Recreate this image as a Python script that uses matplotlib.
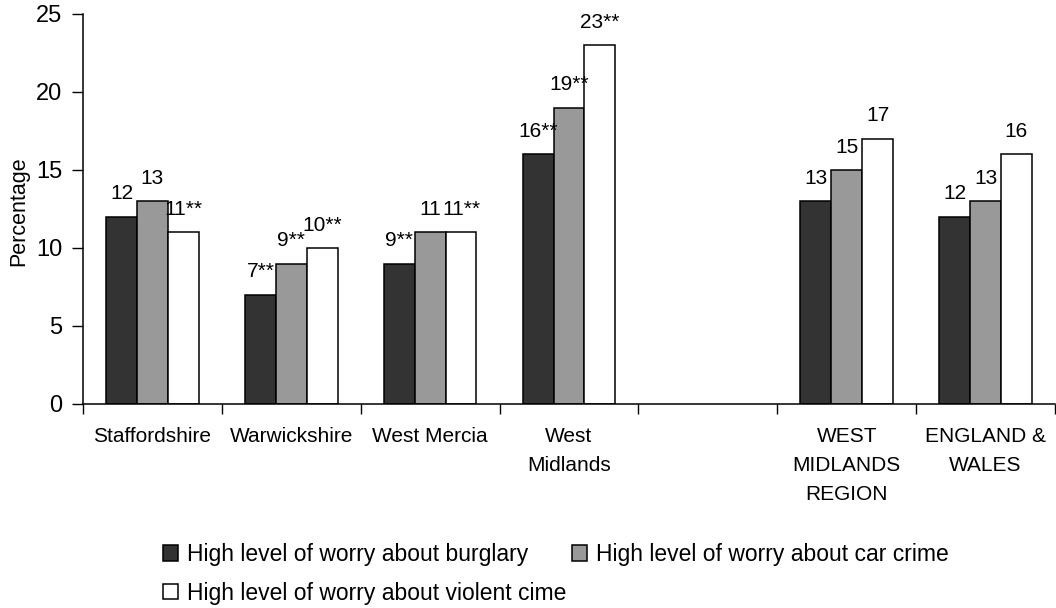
import matplotlib
matplotlib.use("Agg")
import matplotlib.pyplot as plt
import numpy as np

categories = ["Staffordshire", "Warwickshire", "West Mercia", "West\nMidlands", "",
              "WEST\nMIDLANDS\nREGION", "ENGLAND &\nWALES"]
burglary = [12, 7, 9, 16, None, 13, 12]
car_crime = [13, 9, 11, 19, None, 15, 13]
violent = [11, 10, 11, 23, None, 17, 16]
burglary_labels = ["12", "7**", "9**", "16**", "", "13", "12"]
car_labels = ["13", "9**", "11", "19**", "", "15", "13"]
violent_labels = ["11**", "10**", "11**", "23**", "", "17", "16"]
series_names = ["High level of worry about burglary",
                "High level of worry about car crime",
                "High level of worry about violent cime"]
colors = ["#333333", "#999999", "#ffffff"]

plt.rcParams['font.family'] = ['Liberation Sans', 'DejaVu Sans']

fig = plt.figure(figsize=(10.56, 6.08), dpi=100)
ax = fig.add_axes([83/1056, 1 - 404/608, 972/1056, 390/608])

n = len(categories)
x = np.arange(n)
w = 0.222
handles = []
for k, (vals, labs) in enumerate([(burglary, burglary_labels),
                                  (car_crime, car_labels),
                                  (violent, violent_labels)]):
    idx = [i for i, v in enumerate(vals) if v is not None]
    xs = x[idx] + (k - 1) * w
    hs = [vals[i] for i in idx]
    b = ax.bar(xs, hs, width=w, color=colors[k], edgecolor="black",
               linewidth=1.1, label=series_names[k], zorder=2)
    handles.append(b)
    for xi, hi, i in zip(xs, hs, idx):
        ax.annotate(labs[i], (xi, hi), xytext=(0, 12.5), textcoords="offset points",
                    ha="center", va="baseline", fontsize=15, color="black")

ax.set_xlim(-0.5, n - 0.5)
ax.set_ylim(0, 25)
ax.set_yticks([0, 5, 10, 15, 20, 25])
ax.set_xticks(x)
ax.set_xticklabels(categories, fontsize=15, linespacing=1.67, va="top")
ax.set_xticks(np.arange(n + 1) - 0.5, minor=True)
ax.tick_params(axis="x", which="major", length=0, pad=16.5)
ax.tick_params(axis="x", which="minor", length=7, width=1, direction="out")
ax.tick_params(axis="y", length=8, width=1, direction="out", labelsize=17, pad=7)
for s in ["top", "right"]:
    ax.spines[s].set_visible(False)
for s in ["left", "bottom"]:
    ax.spines[s].set_linewidth(1.1)
ax.set_ylabel("Percentage", fontsize=15.5)
ax.yaxis.set_label_coords(-0.0556, 0.495)

leg = fig.legend([handles[0], handles[2], handles[1]],
                 [series_names[0], series_names[2], series_names[1]],
                 ncol=2, loc="upper left", bbox_to_anchor=(163/1056, 1 - 543/608),
                 frameon=False, fontsize=16.5, handlelength=0.65, handleheight=0.65,
                 handletextpad=0.4, columnspacing=0.25, labelspacing=0.68,
                 borderpad=0, borderaxespad=0)

fig.savefig("out.png", dpi=100)
